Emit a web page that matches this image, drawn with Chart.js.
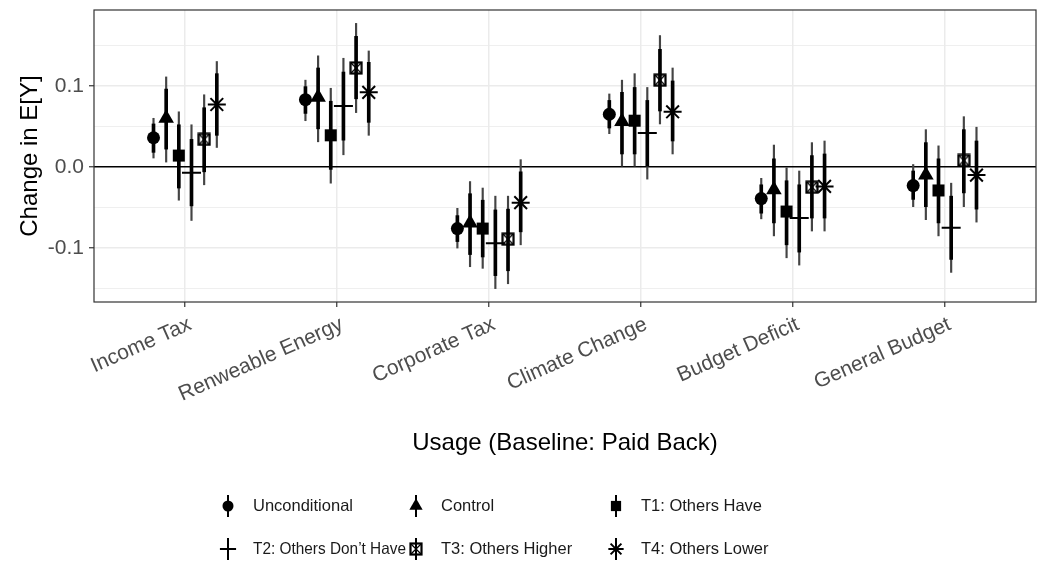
<!DOCTYPE html>
<html>
<head>
<meta charset="utf-8">
<script src="https://cdn.jsdelivr.net/npm/chart.js@4"></script>
<style>
	html, body { margin: 0; padding: 0; background: #fff; }
</style>
</head>
<body>
<canvas id="chart" width="1041" height="568"></canvas>
<script>
const categories = ['Income Tax', 'Renweable Energy', 'Corporate Tax', 'Climate Change', 'Budget Deficit', 'General Budget']
const seriesNames = ['Unconditional', 'Control', 'T1: Others Have', 'T2: Others Don\u2019t Have', 'T3: Others Higher', 'T4: Others Lower']

// rows = series, columns = categories
const pointEst = [
	[0.036, 0.083, -0.076, 0.065, -0.039, -0.023],
	[0.060, 0.086, -0.069, 0.056, -0.028, -0.010],
	[0.014, 0.039, -0.076, 0.057, -0.055, -0.029],
	[-0.007, 0.075, -0.094, 0.042, -0.063, -0.075],
	[0.034, 0.122, -0.089, 0.107, -0.025, 0.008],
	[0.077, 0.092, -0.044, 0.068, -0.024, -0.010],
]
const outerLow = [
	[0.011, 0.057, -0.100, 0.041, -0.064, -0.049],
	[0.006, 0.031, -0.123, 0.001, -0.085, -0.065],
	[-0.041, -0.020, -0.125, 0.001, -0.112, -0.085],
	[-0.066, 0.015, -0.150, -0.015, -0.121, -0.130],
	[-0.022, 0.067, -0.144, 0.053, -0.079, -0.049],
	[0.024, 0.039, -0.096, 0.016, -0.079, -0.068],
]
const outerHigh = [
	[0.060, 0.107, -0.051, 0.090, -0.014, 0.003],
	[0.111, 0.137, -0.018, 0.107, 0.027, 0.046],
	[0.068, 0.097, -0.026, 0.115, -0.001, 0.026],
	[0.052, 0.134, -0.036, 0.098, -0.005, -0.020],
	[0.089, 0.177, -0.036, 0.162, 0.030, 0.062],
	[0.130, 0.143, 0.009, 0.122, 0.032, 0.049],
]
const innerLow = [
	[0.018, 0.066, -0.092, 0.048, -0.057, -0.040],
	[0.022, 0.047, -0.108, 0.016, -0.069, -0.049],
	[-0.026, -0.003, -0.111, 0.016, -0.096, -0.069],
	[-0.048, 0.033, -0.134, 0.001, -0.105, -0.114],
	[-0.006, 0.084, -0.128, 0.069, -0.063, -0.032],
	[0.039, 0.055, -0.080, 0.032, -0.063, -0.052],
]
const innerHigh = [
	[0.053, 0.099, -0.060, 0.082, -0.022, -0.005],
	[0.096, 0.122, -0.033, 0.092, 0.010, 0.030],
	[0.052, 0.081, -0.041, 0.098, -0.017, 0.010],
	[0.034, 0.117, -0.053, 0.082, -0.022, -0.036],
	[0.073, 0.161, -0.052, 0.145, 0.014, 0.046],
	[0.115, 0.129, -0.006, 0.106, 0.016, 0.032],
]

const yTicks = [-0.15, -0.1, -0.05, 0, 0.05, 0.1, 0.15]

const fontFamily = '"Liberation Sans", Arial, Helvetica, sans-serif'
Chart.defaults.font.family = fontFamily

const dodgeStep = 0.5 / 6
const offsetOf = (s) => (s - 2.5) * dodgeStep

const isMajor = (v) => Math.abs(v * 10 - Math.round(v * 10)) < 1e-6

// square with an X inside (ggplot shape 7)
const makeBoxX = (size) => {
	const cv = document.createElement('canvas')
	cv.width = size
	cv.height = size
	const g = cv.getContext('2d')
	g.strokeStyle = '#000'
	g.lineWidth = 2.2
	g.strokeRect(1.5, 1.5, size - 3, size - 3)
	g.lineWidth = 1.3
	g.beginPath()
	g.moveTo(2, 2)
	g.lineTo(size - 2, size - 2)
	g.moveTo(size - 2, 2)
	g.lineTo(2, size - 2)
	g.stroke()
	return cv
}

const shapes = [
	{ pointStyle: 'circle', radius: 6.5, borderWidth: 0 },
	{ pointStyle: 'triangle', radius: 9, borderWidth: 0 },
	{ pointStyle: 'rect', radius: 8.5, borderWidth: 0 },
	{ pointStyle: 'cross', radius: 9.5, borderWidth: 2 },
	{ pointStyle: makeBoxX(14), radius: 7, borderWidth: 0 },
	{ pointStyle: 'star', radius: 9, borderWidth: 2 },
]

const datasets = []
seriesNames.forEach((name, s) => {
	const off = offsetOf(s)
	datasets.push({
		type: 'scatter',
		label: name,
		data: categories.map((c, i) => ({ x: i + off, y: pointEst[s][i] })),
		pointStyle: shapes[s].pointStyle,
		pointRadius: shapes[s].radius,
		pointBorderWidth: shapes[s].borderWidth,
		backgroundColor: '#000',
		borderColor: '#000',
		order: 0,
	})
	datasets.push({
		type: 'bar',
		label: name + ' inner',
		data: categories.map((c, i) => ({ x: i + off, y: [innerLow[s][i], innerHigh[s][i]] })),
		barThickness: 3,
		grouped: false,
		backgroundColor: '#000',
		borderWidth: 0,
		order: 1,
	})
	datasets.push({
		type: 'bar',
		label: name + ' outer',
		data: categories.map((c, i) => ({ x: i + off, y: [outerLow[s][i], outerHigh[s][i]] })),
		barThickness: 1.5,
		grouped: false,
		backgroundColor: '#444',
		borderWidth: 0,
		order: 2,
	})
})

const panelBorder = {
	id: 'panelBorder',
	afterDraw(chart) {
		const { ctx, chartArea: a } = chart
		ctx.save()
		ctx.strokeStyle = '#333'
		ctx.lineWidth = 1.2
		ctx.strokeRect(a.left, a.top, a.right - a.left, a.bottom - a.top)
		ctx.restore()
	},
}

const gridLegend = {
	id: 'gridLegend',
	afterDraw(chart) {
		const ctx = chart.ctx
		const colX = [228, 416, 616]
		const rowY = [506, 549]
		ctx.save()
		ctx.font = '16.5px ' + fontFamily
		ctx.textBaseline = 'middle'
		ctx.textAlign = 'left'
		seriesNames.forEach((name, s) => {
			const col = s % 3
			const x = colX[col]
			const y = rowY[Math.floor(s / 3)]
			ctx.strokeStyle = '#000'
			ctx.fillStyle = '#000'
			ctx.lineWidth = 2
			ctx.beginPath()
			ctx.moveTo(x, y - 11)
			ctx.lineTo(x, y + 11)
			ctx.stroke()
			const sh = shapes[s]
			ctx.lineWidth = sh.borderWidth || 1
			Chart.helpers.drawPoint(ctx, {
				pointStyle: sh.pointStyle,
				radius: typeof sh.pointStyle === 'string' ? sh.radius * 0.85 : sh.radius,
				rotation: 0,
				borderWidth: sh.borderWidth,
			}, x, y)
			ctx.fillStyle = '#1a1a1a'
			const room = col < 2 ? colX[col + 1] - x - 35 : 400
			ctx.fillText(name, x + 25, y, room)
		})
		ctx.restore()
	},
}

const chart = new Chart(document.getElementById('chart').getContext('2d'), {
	type: 'scatter',
	data: { datasets },
	plugins: [panelBorder, gridLegend],
	options: {
		responsive: false,
		devicePixelRatio: 1,
		animation: false,
		events: [],
		layout: { autoPadding: false, padding: { top: 10, right: 5, left: 0, bottom: 106 } },
		plugins: {
			legend: { display: false },
			tooltip: { enabled: false },
		},
		scales: {
			x: {
				type: 'linear',
				min: -0.6,
				max: 5.6,
				offset: false,
				afterBuildTicks: (scale) => {
					scale.ticks = categories.map((c, i) => ({ value: i }))
				},
				afterFit: (scale) => {
					scale.height = 160
					scale.paddingLeft = 0
					scale.paddingRight = 0
				},
				ticks: {
					autoSkip: false,
					minRotation: 24,
					maxRotation: 24,
					padding: 5,
					labelOffset: 5,
					color: '#4d4d4d',
					font: { size: 21 },
					callback: (v) => categories[v] ?? '',
				},
				grid: {
					offset: false,
					color: '#ebebeb',
					lineWidth: 1.5,
					tickColor: '#333',
					tickLength: 5,
					tickWidth: 1.2,
				},
				border: { display: false },
				title: {
					display: true,
					text: 'Usage (Baseline: Paid Back)',
					color: '#000',
					font: { size: 24 },
					padding: { top: 0, bottom: 4 },
				},
			},
			y: {
				min: -0.1665,
				max: 0.1935,
				afterBuildTicks: (scale) => {
					scale.ticks = yTicks.map((v) => ({ value: v }))
				},
				afterFit: (scale) => {
					scale.width = 94
					scale.paddingTop = 0
					scale.paddingBottom = 0
				},
				ticks: {
					padding: 5,
					color: '#4d4d4d',
					font: { size: 21 },
					callback: (v) => (isMajor(v) ? v.toFixed(1) : ''),
				},
				grid: {
					color: (ctx) => (ctx.tick && Math.abs(ctx.tick.value) < 1e-9 ? '#000' : '#ebebeb'),
					lineWidth: (ctx) => (ctx.tick && isMajor(ctx.tick.value) ? 1.5 : 0.8),
					tickColor: (ctx) => (ctx.tick && isMajor(ctx.tick.value) ? '#333' : 'rgba(0,0,0,0)'),
					tickLength: 5,
					tickWidth: 1.2,
				},
				border: { display: false },
				title: {
					display: true,
					text: 'Change in E[Y]',
					color: '#000',
					font: { size: 24 },
					padding: { top: 16, bottom: 0 },
				},
			},
		},
	},
})
</script>
</body>
</html>
